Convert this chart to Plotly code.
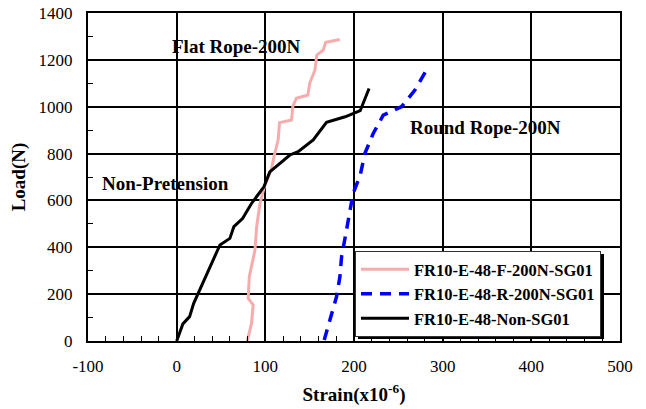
import plotly.graph_objects as go

# Data (strain x1e-6, load N)
flat_strain = [79.6, 84.4, 86.3, 80.7, 81.9, 88.3, 90.2, 94.0, 98.8, 106.6, 110.0, 112.2, 114.5, 116.0, 129.5, 131.0, 135.0, 148.0, 150.0, 156.0, 158.0, 165.3, 168.0, 172.8, 184.0]
flat_load = [0, 75, 154, 182, 274, 388, 488, 587, 658, 730, 790, 829, 860, 932, 943, 1000, 1036, 1050, 1100, 1157, 1220, 1242, 1275, 1278, 1287]

round_strain = [166.4, 174.7, 180.3, 184.1, 186.0, 190.9, 194.6, 199.0, 207.0, 212.3, 221.7, 233.0, 253.6, 268.7, 281.8]
round_load = [4, 111, 189, 274, 360, 460, 545, 630, 708, 801, 886, 964, 1000, 1071, 1157]

non_strain = [0, 7, 14.6, 19.2, 48.8, 60, 64.5, 74.3, 84.4, 98.4, 105, 127.7, 137, 154, 169, 190, 207, 217]
non_load = [0, 73, 104, 161, 410, 438, 488, 523, 587, 658, 722, 794, 808, 858, 933, 957, 983, 1078]

names = ["FR10-E-48-F-200N-SG01", "FR10-E-48-R-200N-SG01", "FR10-E-48-Non-SG01"]

x_ticks = [-100, 0, 100, 200, 300, 400, 500]
x_ticklabels = ["-100", "0", "100", "200", "300", "400", "500"]

FONT = "Liberation Serif, Times New Roman, serif"

fig = go.Figure()
fig.add_trace(go.Scatter(x=flat_strain, y=flat_load, mode="lines", name=names[0],
                         line=dict(color="#F6ACAC", width=3)))
fig.add_trace(go.Scatter(x=round_strain, y=round_load, mode="lines", name=names[1],
                         line=dict(color="#0000FF", width=3.5, dash="11px,8px")))
fig.add_trace(go.Scatter(x=non_strain, y=non_load, mode="lines", name=names[2],
                         line=dict(color="black", width=3)))

# Plot area in px: x 88..620, y 13..341
L, R, T, B = 88, 620, 13, 341
W, H = R - L, B - T
def px(xp): return (xp - L) / W
def py(yp): return (B - yp) / H

LEG_L, LEG_T = 355, 251
LEG_W, LEG_H = 246, 85
# legend shadow
fig.add_shape(type="rect", xref="paper", yref="paper",
              x0=px(LEG_L + 3), x1=px(LEG_L + LEG_W + 3),
              y0=py(LEG_T + LEG_H + 3), y1=py(LEG_T + 3),
              fillcolor="black", line=dict(width=0), layer="above")

fig.add_annotation(x=68, y=1255, text="<b>Flat Rope-200N</b>", showarrow=False,
                   font=dict(size=19, family=FONT, color="black"))
fig.add_annotation(x=348, y=913, text="<b>Round Rope-200N</b>", showarrow=False,
                   font=dict(size=19, family=FONT, color="black"))
fig.add_annotation(x=-13, y=674, text="<b>Non-Pretension</b>", showarrow=False,
                   font=dict(size=19, family=FONT, color="black"))

fig.update_layout(
    width=646, height=409,
    margin=dict(l=L, r=646 - R, t=T, b=409 - B),
    paper_bgcolor="white", plot_bgcolor="white",
    font=dict(family=FONT, size=17, color="black"),
    legend=dict(x=px(LEG_L), y=py(LEG_T), xanchor="left", yanchor="top",
                bgcolor="white", bordercolor="#333333", borderwidth=1,
                font=dict(size=16.5, family=FONT, color="black", weight="bold"),
                itemwidth=48),
    showlegend=True,
)
fig.update_xaxes(range=[-100, 500], tickvals=x_ticks, ticktext=x_ticklabels,
                 automargin=False,
                 showgrid=True, gridcolor="black", gridwidth=1.5,
                 showline=True, linecolor="black", linewidth=2, mirror=True,
                 ticks="inside", ticklen=0, zeroline=False, ticklabelstandoff=9,
                 minor=dict(ticks="inside", dtick=20, ticklen=5, tickcolor="black", showgrid=False),
                 title=dict(text="<b>Strain(x10<sup>-6</sup>)</b>", font=dict(size=19), standoff=12),
                 tickfont=dict(size=17))
fig.update_yaxes(range=[0, 1400], dtick=200, automargin=False,
                 showgrid=True, gridcolor="black", gridwidth=1.5,
                 showline=True, linecolor="black", linewidth=2, mirror=True,
                 ticks="inside", ticklen=0, zeroline=False, ticklabelstandoff=10,
                 minor=dict(ticks="inside", dtick=100, ticklen=5, tickcolor="black", showgrid=False),
                 title=dict(text="<b>Load(N)</b>", font=dict(size=19), standoff=8),
                 tickfont=dict(size=17))

fig.write_html("out.html")
